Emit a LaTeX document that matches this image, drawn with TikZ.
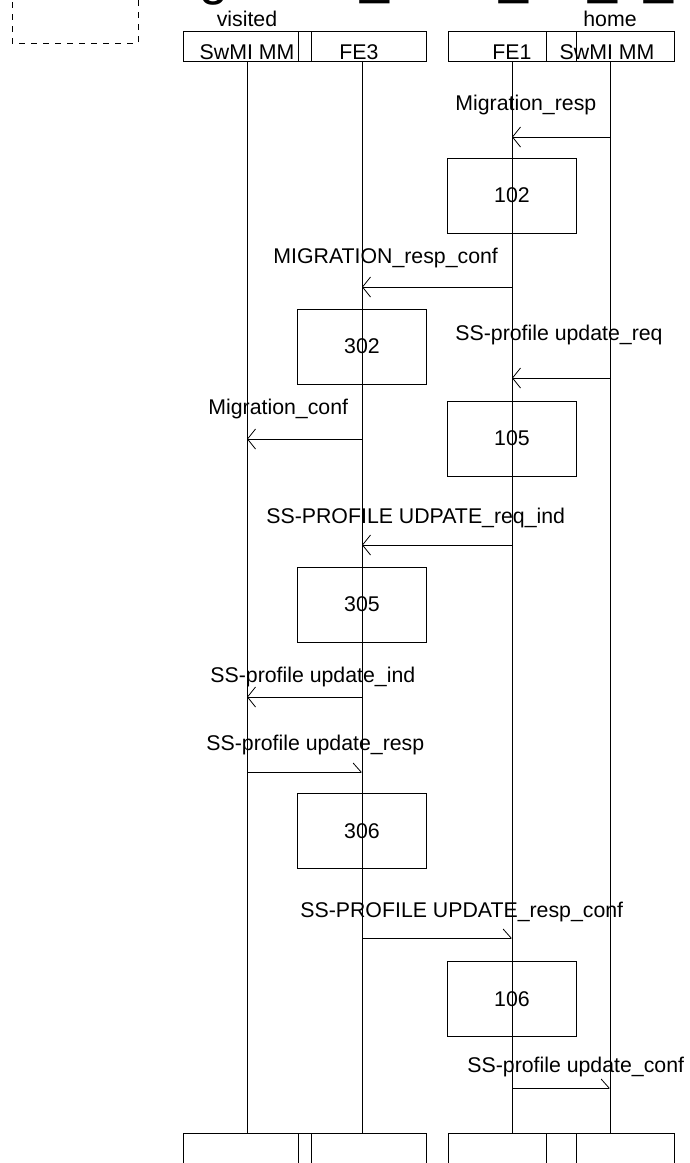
\documentclass[tikz,border=0pt]{standalone}
\usepackage{fontspec}
\setmainfont{Liberation Sans}
\usetikzlibrary{arrows.meta,positioning}
\tikzset{
  hdbox/.style={draw, minimum width=128pt, minimum height=30pt, inner sep=0pt},
  hdtext/.style={font=\fontsize{21.3}{25}\selectfont, inner sep=0pt, anchor=base},
  procbox/.style={draw, minimum width=129pt, minimum height=75pt, inner sep=0pt,
                  font=\fontsize{21.3}{25}\selectfont},
  msgtext/.style={font=\fontsize{21.3}{25}\selectfont, inner sep=0pt, anchor=base west},
  msgl/.style={-{Straight Barb[length=8pt, width=20pt]}, line width=0.8pt},
  msgr/.style={-{Straight Barb[left, length=8pt, width=18pt]}, line width=0.8pt},
  ttl/.style={font=\fontsize{52}{60}\selectfont, inner sep=0pt, anchor=base west},
}

\begin{document}
\begin{tikzpicture}[x=1pt, y=-1pt, line width=0.8pt]
\useasboundingbox (0,0) rectangle (689,1163);
\clip (0,0) rectangle (689,1163);

% Title, cut off at the top edge
\node[ttl] (tg) at (199,-6) {g};
\node[ttl] (tu1) at (360,-7) {\_};
\node[ttl] (tu2) at (499,-7) {\_};
\node[ttl] (tu3) at (588,-7) {\_};
\node[ttl] (tu4) at (644,-7) {\_};

% Dashed frame, top left
\draw[dash pattern=on 6pt off 6pt] (12,-10) -- (12,43) -- (138,43) -- (138,-10);

% Header boxes
\node[hdbox] (vsw) at (247,46) {};
\node[hdbox] (fe3) at (362,46) {};
\node[hdbox] (fe1) at (512,46) {};
\node[hdbox] (hsw) at (610,46) {};

\node[hdtext] (vswt) at ([yshift=2pt]vsw.south) {SwMI MM};
\node[hdtext] (fe3t) at ([xshift=-3pt, yshift=2pt]fe3.south) {FE3};
\node[hdtext] (fe1t) at ([yshift=2pt]fe1.south) {FE1};
\node[hdtext] (hswt) at ([xshift=-3pt, yshift=2pt]hsw.south) {SwMI MM};
\node[hdtext] (vis) at ([yshift=4pt]vsw.north) {visited};
\node[hdtext] (hom) at ([yshift=4pt]hsw.north) {home};

% Bottom boxes
\node[hdbox, minimum height=34pt] (vswb) at (247,1150) {};
\node[hdbox, minimum height=34pt] (fe3b) at (362,1150) {};
\node[hdbox, minimum height=34pt] (fe1b) at (512,1150) {};
\node[hdbox, minimum height=34pt] (hswb) at (610,1150) {};

% Lifelines
\draw (vsw) -- (vswb);
\draw (fe3) -- (fe3b);
\draw (fe1) -- (fe1b);
\draw (hsw) -- (hswb);

% Processing boxes
\node[procbox] (p102) at (512,195.5) {102};
\node[procbox] (p302) at (362,346.5) {302};
\node[procbox] (p105) at (512,438.5) {105};
\node[procbox] (p305) at (362,604.5) {305};
\node[procbox] (p306) at (362,831) {306};
\node[procbox] (p106) at (512,999) {106};

% Message end points
\coordinate (m1a) at (610,137);  \coordinate (m1b) at (512,137);
\coordinate (m2a) at (512,287);  \coordinate (m2b) at (362,287);
\coordinate (m3a) at (610,378);  \coordinate (m3b) at (512,378);
\coordinate (m4a) at (362,439);  \coordinate (m4b) at (247,439);
\coordinate (m5a) at (512,545);  \coordinate (m5b) at (362,545);
\coordinate (m6a) at (362,697);  \coordinate (m6b) at (247,697);
\coordinate (m7a) at (247,772);  \coordinate (m7b) at (362,772);
\coordinate (m8a) at (362,938);  \coordinate (m8b) at (512,938);
\coordinate (m9a) at (512,1088); \coordinate (m9b) at (610,1088);

% Messages
\draw[msgl] (m1a) -- (m1b);
\draw[msgl] (m2a) -- (m2b);
\draw[msgl] (m3a) -- (m3b);
\draw[msgl] (m4a) -- (m4b);
\draw[msgl] (m5a) -- (m5b);
\draw[msgl] (m6a) -- (m6b);
\draw[msgr] (m7a) -- (m7b);
\draw[msgr] (m8a) -- (m8b);
\draw[msgr] (m9a) -- (m9b);

% Message labels
\node[msgtext] (l1) at (455,110) {Migration\_resp};
\node[msgtext] (l2) at (273,263) {MIGRATION\_resp\_conf};
\node[msgtext] (l3) at (455,340) {SS-profile update\_req};
\node[msgtext] (l4) at (208,414) {Migration\_conf};
\node[msgtext] (l5) at (266,523) {SS-PROFILE UDPATE\_req\_ind};
\node[msgtext] (l6) at (210,682) {SS-profile update\_ind};
\node[msgtext] (l7) at (206,750) {SS-profile update\_resp};
\node[msgtext] (l8) at (300,917) {SS-PROFILE UPDATE\_resp\_conf};
\node[msgtext] (l9) at (467,1072) {SS-profile update\_conf};

\end{tikzpicture}
\end{document}
